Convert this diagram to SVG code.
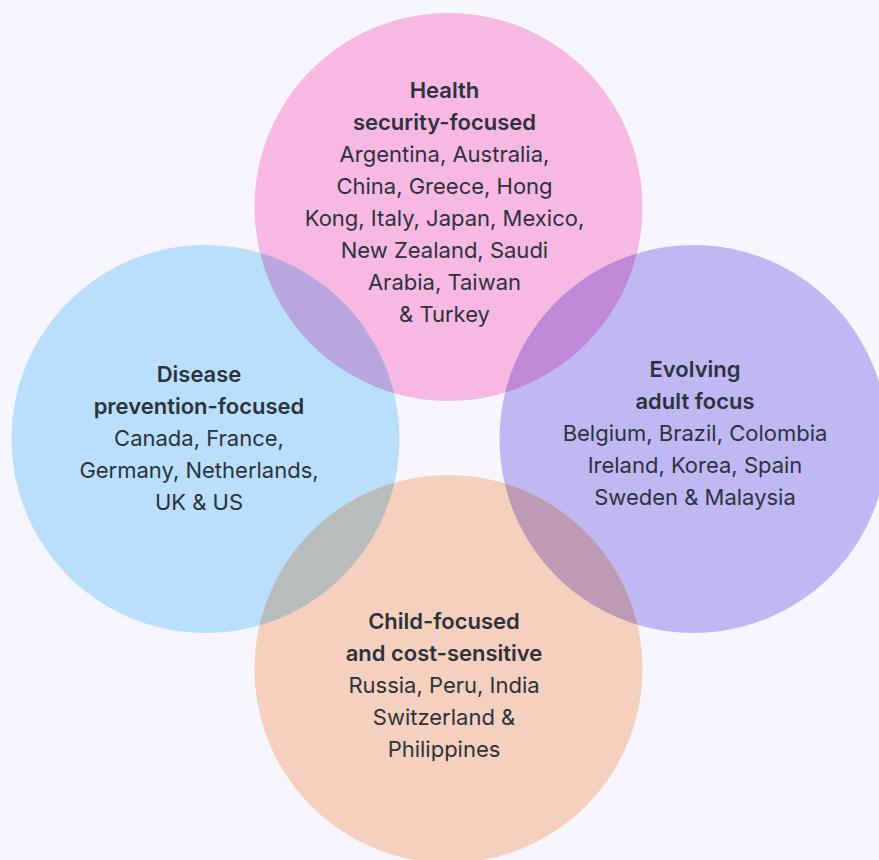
<svg xmlns="http://www.w3.org/2000/svg" width="879" height="860" viewBox="0 0 879 860">
<style>
text{font-family:Inter,"Liberation Sans",Arial,sans-serif;font-size:22px;fill:#2C333D;text-anchor:middle}
.b{font-weight:600}
</style>
<defs>
<clipPath id="cT"><circle cx="448.5" cy="207" r="194"/></clipPath>
<clipPath id="cL"><circle cx="205.5" cy="439" r="194"/></clipPath>
<clipPath id="cR"><circle cx="693.5" cy="439" r="194"/></clipPath>
<clipPath id="cB"><circle cx="448.5" cy="669" r="194"/></clipPath>
</defs>
<rect width="879" height="860" fill="#F7F6FE"/>
<g id="circles">
<circle cx="448.5" cy="207" r="194" fill="#F7B8E2"/>
<circle cx="205.5" cy="439" r="194" fill="#B9DFFC"/>
<circle cx="693.5" cy="439" r="194" fill="#C0B8F3"/>
<circle cx="448.5" cy="669" r="194" fill="#F5D0BE"/>
<circle cx="205.5" cy="439" r="194" fill="#BAA6DF" clip-path="url(#cT)"/>
<circle cx="693.5" cy="439" r="194" fill="#BF89D7" clip-path="url(#cT)"/>
<circle cx="205.5" cy="439" r="194" fill="#B8BCBC" clip-path="url(#cB)"/>
<circle cx="693.5" cy="439" r="194" fill="#BD9BB5" clip-path="url(#cB)"/>
</g>
<g id="health">
<text x="444.5" y="98" class="b">Health</text>
<text x="444.5" y="130" class="b">security-focused</text>
<text x="444.5" y="162">Argentina, Australia,</text>
<text x="444.5" y="194">China, Greece, Hong</text>
<text x="444.5" y="226">Kong, Italy, Japan, Mexico,</text>
<text x="444.5" y="258">New Zealand, Saudi</text>
<text x="444.5" y="290">Arabia, Taiwan</text>
<text x="444.5" y="322">&amp; Turkey</text>
</g>
<g id="disease">
<text x="199" y="382" class="b">Disease</text>
<text x="199" y="414" class="b">prevention-focused</text>
<text x="199" y="446">Canada, France,</text>
<text x="199" y="478">Germany, Netherlands,</text>
<text x="199" y="510">UK &amp; US</text>
</g>
<g id="evolving">
<text x="695" y="377" class="b">Evolving</text>
<text x="695" y="409" class="b">adult focus</text>
<text x="695" y="441">Belgium, Brazil, Colombia</text>
<text x="695" y="473">Ireland, Korea, Spain</text>
<text x="695" y="505">Sweden &amp; Malaysia</text>
</g>
<g id="child">
<text x="444" y="629" class="b">Child-focused</text>
<text x="444" y="661" class="b">and cost-sensitive</text>
<text x="444" y="693">Russia, Peru, India</text>
<text x="444" y="725">Switzerland &amp;</text>
<text x="444" y="757">Philippines</text>
</g>
<g id="connectors"/>
</svg>
